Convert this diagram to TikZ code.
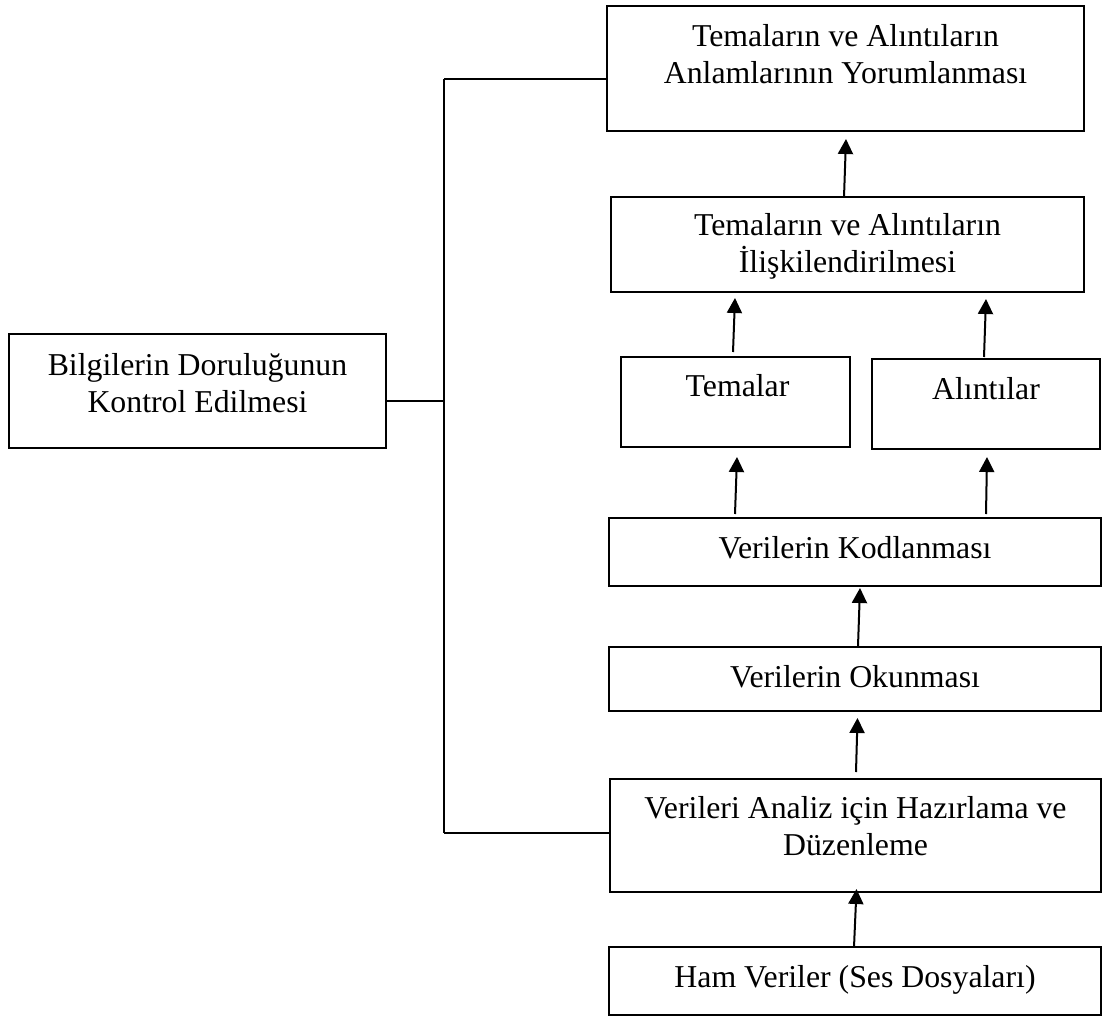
\documentclass[tikz,border=0pt]{standalone}
\usepackage{fontspec}
\setmainfont{Liberation Serif}
\usetikzlibrary{arrows.meta}
\tikzset{
  box/.style={draw, line width=1.6pt, inner sep=0pt, outer sep=0pt, anchor=north west},
  lbl/.style={anchor=base, inner sep=0pt, font=\fontsize{31.8}{37}\selectfont},
  conn/.style={line width=1.4pt},
  arr/.style={line width=2pt, -{Triangle[width=15pt,length=15pt]}}
}
\begin{document}
\begin{tikzpicture}[x=1pt,y=-1pt]
\useasboundingbox (0,0) rectangle (1102,1017);
% boxes
\node[box, minimum width=477pt, minimum height=125pt] (b1) at (607,6) {};
\node[box, minimum width=473pt, minimum height=95pt] (b2) at (611,197) {};
\node[box, minimum width=229pt, minimum height=90pt] (bt) at (621,357) {};
\node[box, minimum width=228pt, minimum height=90pt] (ba) at (872,359) {};
\node[box, minimum width=492pt, minimum height=68pt] (bk) at (609,518) {};
\node[box, minimum width=492pt, minimum height=64pt] (bo) at (609,647) {};
\node[box, minimum width=491pt, minimum height=113pt] (bh) at (610,779) {};
\node[box, minimum width=492pt, minimum height=68pt] (bv) at (609,947) {};
\node[box, minimum width=377pt, minimum height=114pt] (bl) at (9,334) {};
% labels
\node[lbl] (t1) at ([yshift=-40pt]b1.north) {\begin{tabular}[t]{@{}c@{}}Temaların ve Alıntıların\\Anlamlarının Yorumlanması\end{tabular}};
\node[lbl] (t2) at ([yshift=-38pt]b2.north) {\begin{tabular}[t]{@{}c@{}}Temaların ve Alıntıların\\İlişkilendirilmesi\end{tabular}};
\node[lbl] (tt) at ([xshift=2pt,yshift=-39pt]bt.north) {Temalar};
\node[lbl] (ta) at ([yshift=-40pt]ba.north) {Alıntılar};
\node[lbl] (tk) at ([yshift=-40pt]bk.north) {Verilerin Kodlanması};
\node[lbl] (to) at ([yshift=-40pt]bo.north) {Verilerin Okunması};
\node[lbl] (th) at ([yshift=-39pt]bh.north) {\begin{tabular}[t]{@{}c@{}}Verileri Analiz için Hazırlama ve\\Düzenleme\end{tabular}};
\node[lbl] (tv) at ([yshift=-40pt]bv.north) {Ham Veriler (Ses Dosyaları)};
\node[lbl] (tl) at ([yshift=-41pt]bl.north) {\begin{tabular}[t]{@{}c@{}}Bilgilerin Doruluğunun\\Kontrol Edilmesi\end{tabular}};
% bracket
\coordinate (brt) at (444,79);
\coordinate (brm) at (444,401);
\coordinate (brb) at (444,833);
\draw[conn] (brt) -- (brb);
\draw[conn] ([yshift=-10.5pt]b1.west) -- (brt);
\draw[conn] ([yshift=2.5pt]bh.west) -- (brb);
\draw[conn] ([yshift=-10pt]bl.east) -- (brm);
% arrows
\draw[arr] ([xshift=-3.5pt]b2.north) -- ([xshift=0.5pt,yshift=-8pt]b1.south);
\draw[arr] ([xshift=-2.5pt,yshift=5pt]bt.north) -- ([xshift=-112.5pt,yshift=-6pt]b2.south);
\draw[arr] ([xshift=-2pt,yshift=2pt]ba.north) -- ([xshift=138.5pt,yshift=-7pt]b2.south);
\draw[arr] ([xshift=-120pt,yshift=4pt]bk.north) -- ([xshift=1.5pt,yshift=-10pt]bt.south);
\draw[arr] ([xshift=131pt,yshift=4pt]bk.north) -- ([xshift=1pt,yshift=-8pt]ba.south);
\draw[arr] ([xshift=3pt,yshift=1pt]bo.north) -- ([xshift=5pt,yshift=-2pt]bk.south);
\draw[arr] ([xshift=0.5pt,yshift=7pt]bh.north) -- ([xshift=2.5pt,yshift=-7pt]bo.south);
\draw[arr] ([xshift=-1pt]bv.north) -- ([xshift=1pt,yshift=3pt]bh.south);
\end{tikzpicture}
\end{document}
